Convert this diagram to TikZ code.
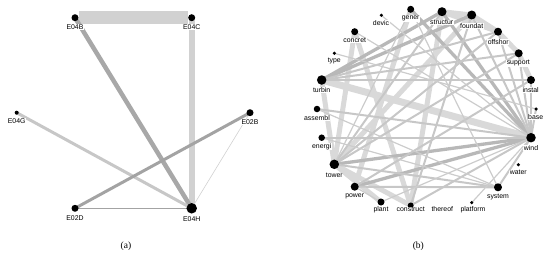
\documentclass[tikz,border=0pt]{standalone}
\usepackage{fontspec}
\setmainfont{Liberation Serif}
\newfontfamily\labfont{Liberation Sans}
\pgfdeclarelayer{bg}
\pgfsetlayers{bg,main}
\begin{document}
\begin{tikzpicture}[x=1pt,y=-1pt,
  dot/.style={circle,fill=black,inner sep=0pt,minimum size=#1},
  lbl/.style={font=\labfont\fontsize{6.9}{7}\selectfont,inner sep=0.5pt,fill=white},
  captext/.style={font=\fontsize{9.5}{11}\selectfont,inner sep=0pt},
  ea/.style={draw=black!18,line width=13pt,shorten <=4pt,shorten >=4pt},
  eb/.style={draw=black!18,line width=6pt},
  ec/.style={draw=black!34,line width=4.5pt},
  ed/.style={draw=black!22,line width=3pt},
  ee/.style={draw=black!36,line width=3pt},
  ef/.style={draw=black!36,line width=1pt},
  eg/.style={draw=black!18,line width=0.6pt},
  w1/.style={draw=black!20,line width=1.2pt},
  w2/.style={draw=black!22,line width=2pt},
  w3/.style={draw=black!28,line width=3.3pt},
  w4/.style={draw=black!15,line width=5pt},
  w5/.style={draw=black!15,line width=7pt}]
\useasboundingbox (0,0) rectangle (550,257);

% ---------- panel (a) ----------
\node[dot=7pt] (E04B) at (75,17.7) {};
\node[dot=7pt] (E04C) at (191.7,17.7) {};
\node[dot=4pt] (E04G) at (16.7,112.7) {};
\node[dot=7pt] (E02B) at (250,112.7) {};
\node[dot=7pt] (E02D) at (75,208.3) {};
\node[dot=10.5pt] (E04H) at (191.7,208.3) {};
\node[lbl] (lE04B) at (75,26.7) {E04B};
\node[lbl] (lE04C) at (191.7,26.7) {E04C};
\node[lbl] (lE04G) at (16.7,120.7) {E04G};
\node[lbl] (lE02B) at (250,122) {E02B};
\node[lbl] (lE02D) at (75,218.3) {E02D};
\node[lbl] (lE04H) at (191.7,219.3) {E04H};
\node[captext] (capa) at (126,246) {(a)};

\begin{pgfonlayer}{bg}
\draw[ea] (E04B.center) -- (E04C.center);
\draw[eb] (E04C.center) -- (E04H.center);
\draw[ec] (E04B.center) -- (E04H.center);
\draw[ed] (E04G.center) -- (E04H.center);
\draw[ee] (E02D.center) -- (E02B.center);
\draw[ef] (E02D.center) -- (E04H.center);
\draw[eg] (E02B.center) -- (E04H.center);
\end{pgfonlayer}

% ---------- panel (b) ----------
\node[dot=7pt] (gener) at (410.7,9.3) {};
\node[dot=3.5pt] (devic) at (381.3,15.3) {};
\node[dot=9pt] (structur) at (442,11.7) {};
\node[dot=9pt] (foundat) at (471.7,15) {};
\node[dot=8pt] (offshor) at (498,31.7) {};
\node[dot=8pt] (support) at (518.7,53.3) {};
\node[dot=8pt] (instal) at (531,80) {};
\node[dot=3.5pt] (base) at (536,109) {};
\node[dot=9.5pt] (wind) at (531,137.7) {};
\node[dot=3.5pt] (water) at (518.3,164.7) {};
\node[dot=8pt] (system) at (498,187.3) {};
\node[dot=3.5pt] (platform) at (471.7,202.7) {};
\coordinate (thereof) at (442.3,205);
\node[dot=6pt] (construct) at (410.7,205.5) {};
\node[dot=7pt] (plant) at (381,202) {};
\node[dot=8pt] (power) at (354.7,186.7) {};
\node[dot=9.5pt] (tower) at (334.3,164.3) {};
\node[dot=6.5pt] (energi) at (321.7,137.7) {};
\node[dot=6.5pt] (assembl) at (317,109) {};
\node[dot=9.5pt] (turbin) at (321.7,80) {};
\node[dot=3.5pt] (type) at (334.3,53.3) {};
\node[dot=7pt] (concret) at (354.7,31.7) {};

\node[lbl] (lgener) at (410.7,18.5) {gener};
\node[lbl] (ldevic) at (381,22.7) {devic};
\node[lbl] (lstructur) at (441.7,22.3) {structur};
\node[lbl] (lfoundat) at (471.7,25.7) {foundat};
\node[lbl] (loffshor) at (498.3,41.7) {offshor};
\node[lbl] (lsupport) at (518.3,63.3) {support};
\node[lbl] (linstal) at (530.7,90) {instal};
\node[lbl] (lbase) at (535.7,116.7) {base};
\node[lbl] (lwind) at (531,148.3) {wind};
\node[lbl] (lwater) at (518.3,172.7) {water};
\node[lbl] (lsystem) at (498,196.7) {system};
\node[lbl] (lplatform) at (473,209.3) {platform};
\node[lbl] (lthereof) at (442.3,209.3) {thereof};
\node[lbl] (lconstruct) at (410.7,209.3) {construct};
\node[lbl] (lplant) at (381,209.3) {plant};
\node[lbl] (lpower) at (354.7,196.7) {power};
\node[lbl] (ltower) at (334.3,175.7) {tower};
\node[lbl] (lenergi) at (321.7,146.7) {energi};
\node[lbl] (lassembl) at (317,118.3) {assembl};
\node[lbl] (lturbin) at (321.7,90) {turbin};
\node[lbl] (ltype) at (334.3,61) {type};
\node[lbl] (lconcret) at (354.7,40.7) {concret};
\node[captext] (capb) at (418.3,246) {(b)};

\begin{pgfonlayer}{bg}
% thick light bands
\draw[w5] (turbin.center) -- (wind.center);
\draw[w4] (concret.center) -- (construct.center);
\draw[w4] (concret.center) -- (tower.center);
\draw[w4] (gener.center) -- (power.center);
\draw[w4] (turbin.center) -- (tower.center);
\draw[w4] (structur.center) -- (foundat.center);
\draw[w4] (foundat.center) -- (offshor.center);
\draw[w4] (offshor.center) -- (support.center);
\draw[w4] (support.center) -- (instal.center);
\draw[w4] (structur.center) -- (offshor.center);
\draw[w4] (tower.center) -- (construct.center);
\draw[w4] (tower.center) -- (plant.center);
\draw[w4] (structur.center) -- (construct.center);
\draw[w4] (foundat.center) -- (tower.center);
% medium
\draw[w3] (turbin.center) -- (structur.center);
\draw[w3] (turbin.center) -- (foundat.center);
\draw[w3] (tower.center) -- (wind.center);
\draw[w3] (power.center) -- (wind.center);
\draw[w3] (structur.center) -- (wind.center);
\draw[w3] (gener.center) -- (wind.center);
\draw[w2] (turbin.center) -- (support.center);
\draw[w2] (turbin.center) -- (instal.center);
\draw[w2] (turbin.center) -- (offshor.center);
\draw[w2] (energi.center) -- (wind.center);
\draw[w2] (assembl.center) -- (wind.center);
\draw[w2] (foundat.center) -- (wind.center);
\draw[w2] (offshor.center) -- (wind.center);
\draw[w2] (support.center) -- (wind.center);
\draw[w2] (instal.center) -- (wind.center);
\draw[w2] (base.center) -- (wind.center);
\draw[w2] (tower.center) -- (structur.center);
\draw[w2] (tower.center) -- (offshor.center);
\draw[w2] (tower.center) -- (support.center);
\draw[w2] (tower.center) -- (system.center);
\draw[w2] (power.center) -- (system.center);
\draw[w2] (construct.center) -- (foundat.center);
\draw[w2] (construct.center) -- (wind.center);
\draw[w2] (power.center) -- (instal.center);
\draw[w2] (wind.center) -- (system.center);
% thin
\draw[w1] (gener.center) -- (system.center);
\draw[w1] (platform.center) -- (wind.center);
\draw[w1] (plant.center) -- (wind.center);
\draw[w1] (assembl.center) -- (system.center);
\draw[w1] (energi.center) -- (system.center);
\draw[w1] (devic.center) -- (wind.center);
\draw[w1] (concret.center) -- (wind.center);
\draw[w1] (type.center) -- (base.center);
\draw[w1] (tower.center) -- (gener.center);
\draw[w1] (power.center) -- (plant.center);
\end{pgfonlayer}
\end{tikzpicture}
\end{document}
